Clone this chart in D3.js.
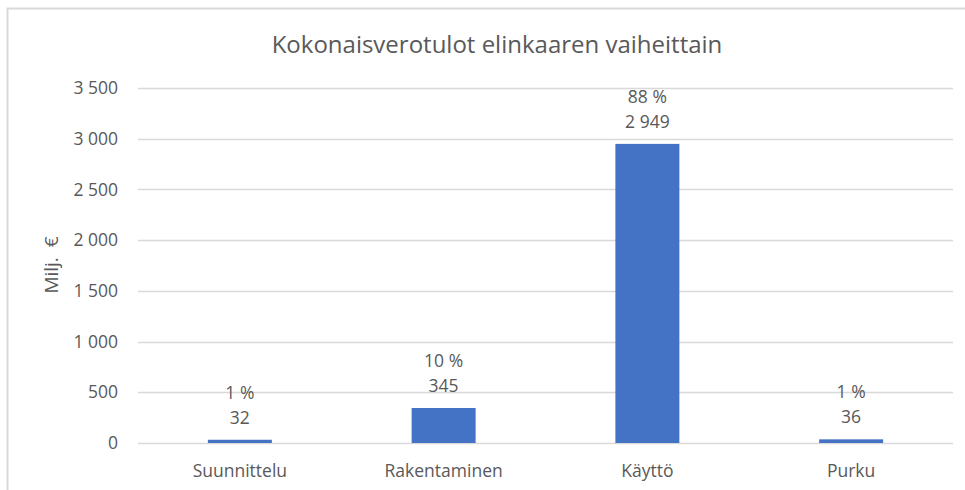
<!DOCTYPE html>
<html><head><meta charset="utf-8">
<script src="https://cdn.jsdelivr.net/npm/d3@7"></script>
<style>
body{margin:0;background:#fff;}
text{font-family:"Open Sans","Noto Sans",sans-serif;fill:#595959;}
</style></head>
<body><svg id="c" width="965" height="490"></svg>
<script>
(function(){
const categories = ["Suunnittelu","Rakentaminen","Käyttö","Purku"];
const values = [32, 345, 2949, 36];
const valueLabels = ["32","345","2 949","36"];
const shareLabels = ["1 %","10 %","88 %","1 %"];
const yTicks = [0,500,1000,1500,2000,2500,3000,3500];
const title = "Kokonaisverotulot elinkaaren vaiheittain";
const yTitle = "Milj.  €";

const svg = d3.select("#c");
const mLeft = 138, mRight = 953, mTop = 88, mBottom = 443;

// frame
svg.append("path").attr("d","M7.5,490 V8.5 H965").attr("fill","none").attr("stroke","#d9d9d9").attr("stroke-width",2);

const x = d3.scaleBand().domain(categories).range([mLeft,mRight]).paddingInner(0.686).paddingOuter(0.343);
const y = d3.scaleLinear().domain([0,3500]).range([mBottom,mTop]);
const fmt = v => d3.format(",")(v).replace(/,/g," ");

// grid
svg.append("g").selectAll("line").data(yTicks).join("line")
  .attr("x1",mLeft).attr("x2",mRight).attr("y1",d=>Math.round(y(d))+0.5).attr("y2",d=>Math.round(y(d))+0.5)
  .attr("stroke","#d9d9d9").attr("stroke-width",1.5);

// y axis labels
const yAxis = d3.axisLeft(y).tickValues(yTicks).tickFormat(fmt).tickSize(0).tickPadding(0);
const ga = svg.append("g").attr("transform",`translate(118,0)`).call(yAxis);
ga.select(".domain").remove();
ga.attr("font-family",null).attr("font-size",null);
ga.selectAll("text").style("font-size","17.5px").attr("fill","#595959");

// x axis labels
const xAxis = d3.axisBottom(x).tickSize(0).tickPadding(0);
const gx = svg.append("g").attr("transform",`translate(0,465)`).call(xAxis);
gx.select(".domain").remove();
gx.attr("font-family",null).attr("font-size",null);
gx.selectAll("text").style("font-size","17.5px").attr("fill","#595959");

// bars
svg.append("g").selectAll("rect").data(values).join("rect")
  .attr("x",(d,i)=>x(categories[i])).attr("width",x.bandwidth())
  .attr("y",d=>y(d)).attr("height",d=>mBottom-y(d)).attr("fill","#4472C4");

// data labels
const lab = svg.append("g").attr("text-anchor","middle").style("font-size","17.5px");
values.forEach((v,i)=>{
  const cx = x(categories[i]) + x.bandwidth()/2;
  lab.append("text").attr("x",cx).attr("y",y(v)-16).text(valueLabels[i]);
  lab.append("text").attr("x",cx).attr("y",y(v)-41).text(shareLabels[i]);
});

// title
svg.append("text").attr("x",497).attr("y",53).attr("text-anchor","middle").style("font-size","24px").text(title);

// y title
svg.append("text").attr("transform","translate(58,265) rotate(-90)").attr("text-anchor","middle")
  .style("font-size","19px").style("white-space","pre").attr("fill","#404040").text(yTitle);
})();
</script></body></html>
